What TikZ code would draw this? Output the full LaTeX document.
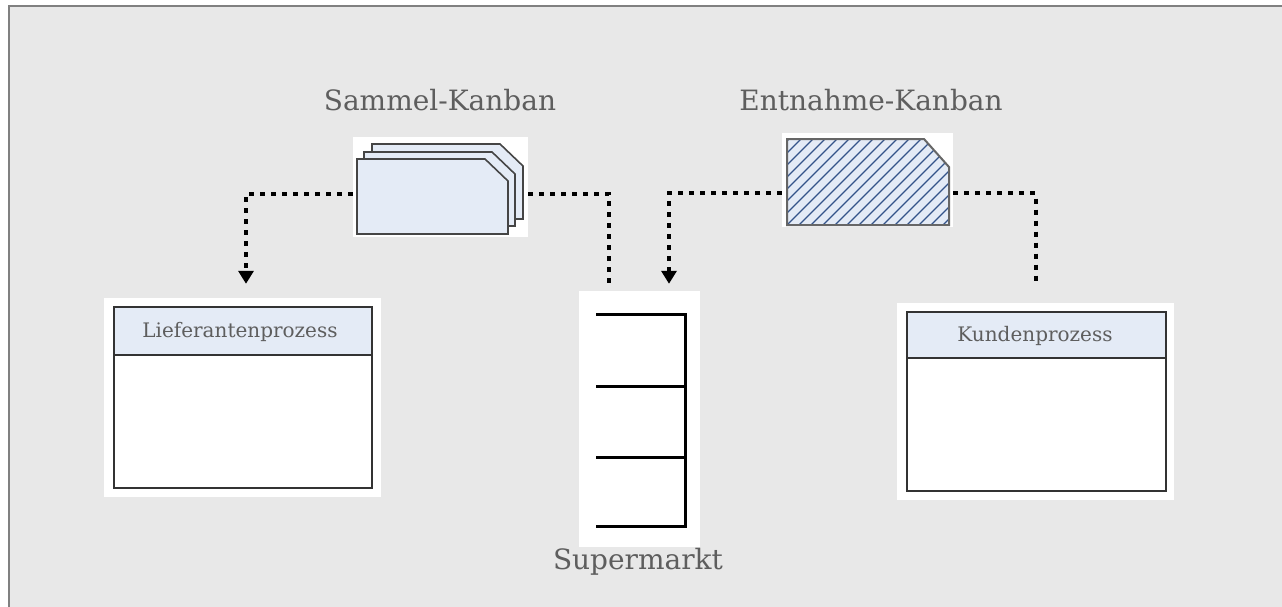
\documentclass[tikz,border=0pt]{standalone}
\usepackage{fontspec}
\setmainfont{DejaVu Serif}
\usetikzlibrary{arrows.meta}
\definecolor{panel}{HTML}{E8E8E8}
\definecolor{frameline}{HTML}{808080}
\definecolor{cardfill}{HTML}{E4EBF6}
\definecolor{cardline}{HTML}{454545}
\definecolor{hatch}{HTML}{34548A}
\definecolor{labelgray}{HTML}{5E5E5E}
\tikzset{
  whitebg/.style={fill=white, draw=none, inner sep=0pt},
  card/.style={fill=cardfill, draw=cardline, line width=1.6pt, line join=miter},
  procbox/.style={draw=black!80, line width=1.8pt},
  headfill/.style={fill=cardfill},
  shelf/.style={draw=black, line width=3pt},
  dotline/.style={line width=4pt, dash pattern=on 5pt off 6pt, black},
  tip/.style={-{Triangle[width=15pt,length=13pt]}},
  biglabel/.style={text=labelgray, font=\fontsize{28}{32}\selectfont, inner sep=0pt},
  boxlabel/.style={text=labelgray, font=\fontsize{20}{24}\selectfont, inner sep=0pt}
}
% kanban card: rectangle with the upper right corner cut off
\newcommand{\kcard}[6]{% x1,y1,x2,y2,cutx,cuty
  (#1,#2) -- ({#3-#5},#2) -- (#3,{#2+#6}) -- (#3,#4) -- (#1,#4) -- cycle}
\begin{document}
\begin{tikzpicture}[x=1pt,y=-1pt]
\useasboundingbox (0,0) rectangle (1282,606);
\clip (0,0) rectangle (1282,606);
% background panel
\fill[panel, draw=frameline, line width=2pt] (9,6) rectangle (1300,630);

% ---- Sammel-Kanban ----
\node[whitebg, minimum width=175pt, minimum height=100pt] (sammel) at (440.5,187) {};
\draw[card] \kcard{372}{144}{523}{219}{23}{22};
\draw[card] \kcard{364}{152}{515}{226}{23}{22};
\draw[card] \kcard{357}{159}{508}{234}{23}{22};
\node[biglabel] (sammellbl) at (440,100) {Sammel-Kanban};

% ---- Entnahme-Kanban ----
\node[whitebg, minimum width=171pt, minimum height=94pt] (entnahme) at (867.5,180) {};
\fill[cardfill] \kcard{787}{139}{949}{225}{25}{28};
\begin{scope}
  \clip \kcard{787}{139}{949}{225}{25}{28};
  \foreach \s in {-120,-108,...,200}
    \draw[hatch, line width=1.3pt] ({787+\s},225) -- ({787+\s+95},130);
\end{scope}
\draw[card, fill=none, draw=black!60, line width=2pt] \kcard{787}{139}{949}{225}{25}{28};
\node[biglabel] (entnahmelbl) at (871,100) {Entnahme-Kanban};

% ---- Lieferantenprozess ----
\node[whitebg, minimum width=277pt, minimum height=199pt] (lief) at (242.5,397.5) {};
\fill[headfill] (114,307) rectangle (372,355);
\draw[procbox] (114,307) rectangle (372,488);
\draw[procbox] (114,355) -- (372,355);
\node[boxlabel] (lieflbl) at (240,332) {Lieferantenprozess};

% ---- Kundenprozess ----
\node[whitebg, minimum width=277pt, minimum height=197pt] (kunde) at (1035.5,401.5) {};
\fill[headfill] (907,312) rectangle (1166,358);
\draw[procbox] (907,312) rectangle (1166,491);
\draw[procbox] (907,358) -- (1166,358);
\node[boxlabel] (kundelbl) at (1035,336) {Kundenprozess};

% ---- Supermarkt ----
\node[whitebg, minimum width=121pt, minimum height=256pt] (markt) at (639.5,419) {};
\draw[shelf] (596,314) -- (685,314) -- (685,526) -- (596,526);
\draw[shelf] (596,386) -- (685,386);
\draw[shelf] (596,457) -- (685,457);
\node[biglabel] (marktlbl) at (638,562) {Supermarkt};

% ---- free ends of the connectors ----
\coordinate (liefin)  at ([xshift=3.5pt, yshift=14pt]lief.north);
\coordinate (marktin) at ([xshift=29.5pt, yshift=7pt]markt.north);
\coordinate (marktout) at ([xshift=-30.5pt, yshift=8pt]markt.north);
\coordinate (kundeout) at ([yshift=17pt]kunde.north);

% ---- dotted connectors ----
\draw[dotline, tip] ([yshift=-7pt]sammel.west) -| (liefin);
\draw[dotline] ([yshift=-7pt]sammel.east) -| (marktout);
\draw[dotline, tip] ([yshift=-13pt]entnahme.west) -| (marktin);
\draw[dotline] ([yshift=-13pt]entnahme.east) -| (kundeout);
\end{tikzpicture}
\end{document}
